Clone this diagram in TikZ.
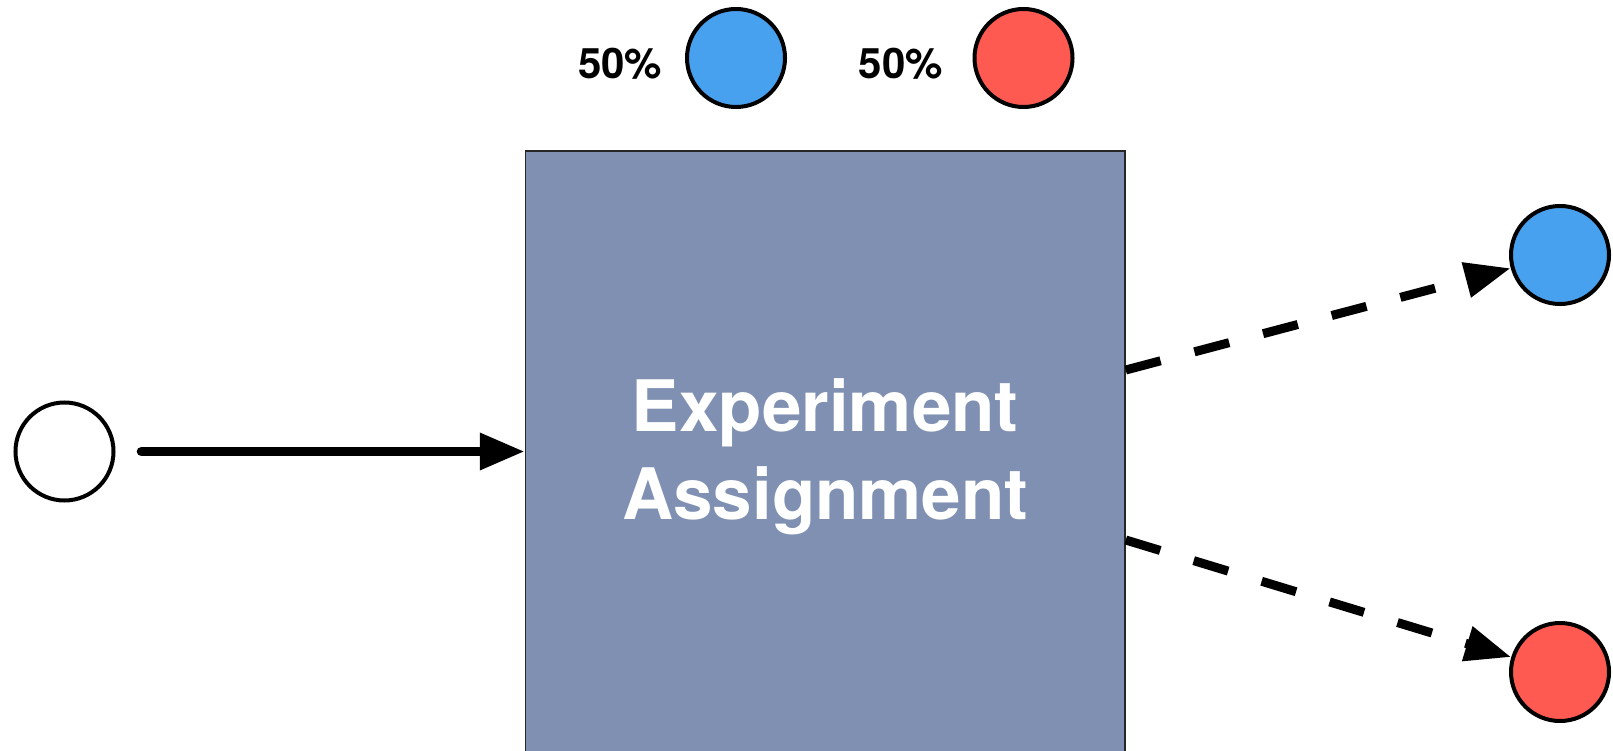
\documentclass[tikz,border=0pt]{standalone}
\usepackage{fontspec}
\setmainfont{TeX Gyre Heros}
\usetikzlibrary{arrows.meta,calc}
\definecolor{cblue}{HTML}{48A1EF}
\definecolor{cred}{HTML}{FF5A52}
\definecolor{cbox}{HTML}{7F90B2}
\tikzset{
  dot/.style={circle, draw=black, line width=4pt, minimum size=98pt, inner sep=0pt},
  boxstyle/.style={rectangle, draw=black!85, line width=1.5pt, fill=cbox, text=white,
     font=\fontsize{71}{88}\selectfont\bfseries, align=center, inner sep=0pt},
  pct/.style={font=\fontsize{42}{48}\selectfont\bfseries, inner sep=0pt},
  solidarrow/.style={line width=9.6pt, line cap=round, -{Triangle[length=45pt,width=35pt]}},
  dasharrow/.style={line width=9pt, dash pattern=on 36pt off 35pt, -{Triangle[length=46pt,width=34pt]}}
}
\begin{document}
\begin{tikzpicture}[x=1pt,y=-1pt]
\clip (0,0) rectangle (1613,751);
\fill[white] (0,0) rectangle (1613,751);
% main box
\node[boxstyle, minimum width=599.5pt, minimum height=612pt] (box) at (825.25,457) {Experiment\\Assignment};
% circles
\node[dot, fill=white] (start) at (64.5,451.5) {};
\node[dot, fill=cblue] (tb) at (736,58) {};
\node[dot, fill=cred] (tr) at (1023.5,58) {};
\node[dot, fill=cblue] (rb) at (1560,255) {};
\node[dot, fill=cred] (rr) at (1560,672) {};
% labels
\node[pct, anchor=base east] (l1) at (662.5,78.5) {50\%};
\node[pct, anchor=base east] (l2) at (943,78.5) {50\%};
% connectors
\draw[solidarrow, shorten <=26pt] (start) -- (start -| box.west);
\coordinate (o1) at (box.east |- 0,370);
\coordinate (o2) at (box.east |- 0,540);
\draw[dasharrow] (o1) -- (rb.195);
\draw[dasharrow] (o2) -- (rr.163);
\end{tikzpicture}
\end{document}
